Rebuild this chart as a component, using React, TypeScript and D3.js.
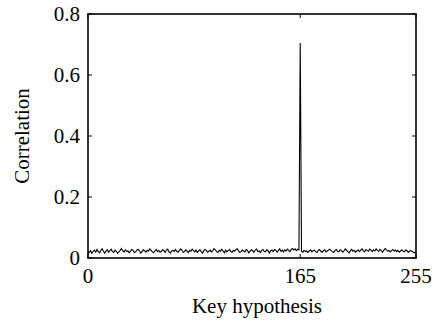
import React from "react";
import * as d3 from "d3";

const keys: number[] = d3.range(256);
const correlationMilli: number[] = [
  20,18,24,15,22,26,19,28,21,17,25,30,22,16,23,27,
  19,24,29,21,18,26,22,15,20,25,31,23,19,27,21,24,
  17,22,28,25,18,20,26,29,23,16,21,27,24,19,25,22,
  30,26,20,17,23,28,21,25,19,22,27,24,18,26,29,20,
  16,23,25,21,28,22,19,24,30,26,18,21,27,23,17,25,
  22,29,24,20,26,18,23,27,21,16,24,28,25,19,22,26,
  20,24,31,27,21,18,25,22,29,23,17,26,20,24,28,21,
  19,25,22,27,30,24,18,21,26,23,20,28,25,17,22,27,
  24,19,26,29,21,23,18,25,28,22,20,27,24,16,23,26,
  21,28,25,19,24,30,22,26,20,27,23,29,25,21,28,31,
  26,30,24,29,27,
  705,
  22,19,25,21,24,18,23,27,20,24,
  26,21,18,25,28,22,19,24,27,20,23,26,29,24,21,18,
  25,28,22,20,27,24,19,23,30,26,21,17,24,28,22,25,
  19,23,27,21,26,30,24,20,28,25,22,29,26,21,27,23,
  30,25,22,28,24,19,26,31,27,22,25,20,24,28,23,26,
  21,25,19,23,27,22,20,26,24,18,22,25,21,19,17,20,
];
const correlation: number[] = correlationMilli.map((v) => v / 1000);
const xTicks: number[] = [0, 165, 255];
const yTicks: number[] = [0, 0.2, 0.4, 0.6, 0.8];
const xTitle = "Key hypothesis";
const yTitle = "Correlation";

export default function App() {
  const W = 437, H = 331;
  const left = 88, right = 416, top = 14, bottom = 258;
  const x = d3.scaleLinear().domain([0, 255]).range([left, right]);
  const y = d3.scaleLinear().domain([0, 0.8]).range([bottom, top]);
  const line = d3
    .line<number>()
    .x((_, i) => x(keys[i]))
    .y((d) => y(d));
  const ts: React.CSSProperties = {
    fontFamily: '"Liberation Serif", "Times New Roman", Times, "DejaVu Serif", serif',
    fontSize: "21px",
  };
  return (
    <svg
      width={W}
      height={H}
      style={{ position: "absolute", left: 0, top: 0, background: "#fff" }}
    >
      <path d={line(correlation) || ""} fill="none" stroke="#000" strokeWidth={1.1} />
      <rect
        x={left}
        y={top}
        width={right - left}
        height={bottom - top}
        fill="none"
        stroke="#000"
        strokeWidth={1.6}
      />
      {yTicks.map((t) => (
        <g key={"y" + t}>
          <line x1={left} x2={left + 4} y1={y(t)} y2={y(t)} stroke="#000" strokeWidth={1} />
          <line x1={right} x2={right - 4} y1={y(t)} y2={y(t)} stroke="#000" strokeWidth={1} />
          <text x={left - 8} y={y(t)} dy="0.35em" textAnchor="end" style={ts}>
            {t === 0 ? "0" : t.toFixed(1)}
          </text>
        </g>
      ))}
      {xTicks.map((t) => (
        <g key={"x" + t}>
          <line x1={x(t)} x2={x(t)} y1={bottom} y2={bottom - 4} stroke="#000" strokeWidth={1} />
          <line x1={x(t)} x2={x(t)} y1={top} y2={top + 4} stroke="#000" strokeWidth={1} />
          <text x={x(t)} y={bottom + 25} textAnchor="middle" style={ts}>
            {t}
          </text>
        </g>
      ))}
      <text x={(left + right) / 2 + 5} y={bottom + 55} textAnchor="middle" style={ts}>
        {xTitle}
      </text>
      <text
        transform={`translate(29, ${(top + bottom) / 2}) rotate(-90)`}
        textAnchor="middle"
        style={ts}
      >
        {yTitle}
      </text>
    </svg>
  );
}
